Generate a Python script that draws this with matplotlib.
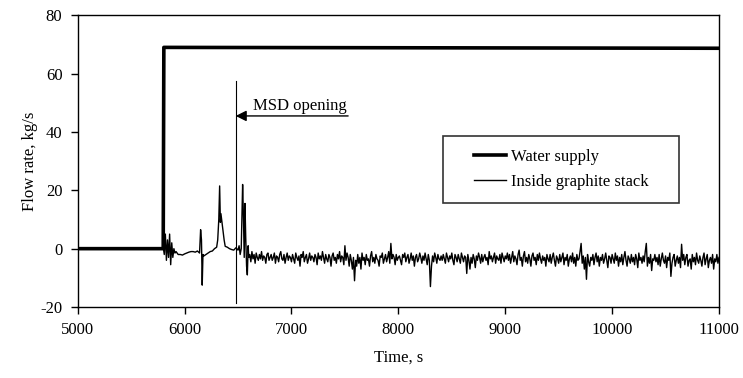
import numpy as np
import matplotlib
matplotlib.use("Agg")
import matplotlib.pyplot as plt
from matplotlib.patches import Rectangle

plt.rcParams['font.family'] = ['Liberation Serif', 'DejaVu Serif']
plt.rcParams['font.size'] = 12
plt.rcParams['axes.unicode_minus'] = False

# Water supply (step)
supply_t = [5000, 5800, 5806, 11000]
supply_q = [0.0, 0.0, 69.0, 68.7]

# Inside graphite stack, start-up transient read point by point
start_t = [5000, 5790, 5800, 5810, 5820, 5830, 5840, 5850, 5860, 5870, 5880, 5890,
           5900, 5910, 5920, 5940, 5960, 5980, 6000, 6020, 6040, 6060, 6080, 6100,
           6120, 6140, 6150, 6158, 6165, 6172, 6180, 6200, 6220, 6240, 6260, 6280,
           6300, 6310, 6320, 6328, 6335, 6340, 6350, 6360, 6370, 6380, 6400, 6420,
           6440, 6460, 6480, 6500, 6510, 6520, 6530, 6543, 6550, 6558, 6565, 6572,
           6580, 6587, 6595, 6600]
start_q = [0.0, 0.0, 0.5, -2.0, 5.0, -4.0, 3.0, -3.0, 5.0, -5.5, 2.0, -3.0,
           0.0, -1.5, -1.0, -2.0, -2.0, -2.2, -1.8, -1.5, -1.2, -1.0, -1.0, -1.2,
           -0.8, -1.5, 6.5, 3.0, -12.5, -2.0, -2.5, -2.0, -1.5, -1.0, -0.8, 0.0,
           0.5, 3.0, 10.0, 21.5, 9.0, 12.0, 9.0, 6.0, 3.0, 0.8, 0.5, 0.0,
           -0.3, -0.5, 0.3, -0.5, 1.0, -2.0, 0.0, 22.0, 12.0, -3.0, 15.5, 4.0,
           -6.0, -9.0, 1.0, -3.0]

# Inside graphite stack, 6610 s .. 11000 s every 10 s
noise_t0 = 6610
noise_dt = 10
noise_q = [
    -2, -4.5, -1, -3.5, -2, -5, -1.5, -3, -4, -2, -3.5, -1, -4, -2.5, -3, -5, -2, -1.5, -4, -3,
    -2, -4, -3, -1.5, -5, -2.5, -3, -4.5, -2, -1, -3.5, -4, -2, -5, -3, -1.5, -4, -2.5, -3, -4.5,
    -2, -3.5, -5, -1.5, -3, -4, -2.5, -6, -2, -3, -1, -4.5, -3, -2, -5, -3.5, -1.5, -4, -2.5, -3,
    -4.5, -2, -3, -5.5, -1.5, -3.5, -2.5, -4, -1, -3, -5, -2, -3.5, -4.5, -2, -3, -6, -2.5, -1.5, -4,
    -3, -5, -2, -3.5, -1, -4.5, -2.5, -3, -5.5, 1, -4, -1.5, -3, -6, -2, -4, -7, -3, -11, -4,
    -6, -2, -5, -3, -7, -1.5, -4, -3, -5.5, -2, -4, -3.5, -6, -2.5, -1, -4.5, -3, -5, -2, -3.5,
    -4, -6, -2.5, -3, -1.5, -5, -3.5, -2, -4.5, -3, -1, -5, 1.8, -3.5, -2, -3, -5.5, -2, -4, -3,
    -2.5, -4, -5.5, -2, -3, -1.5, -4.5, -3, -2, -5, -3.5, -1.5, -4, -2.5, -6, -3, -2, -4.5, -3.5, -1.5,
    -3, -5, -2.5, -4, -1.5, -3.5, -5.5, -2, -4, -13, -6, -2.5, -4.5, -1.5, -3, -5, -2, -3.5, -4, -2.5,
    -4, -2, -3.5, -5, -1.5, -3, -4.5, -2.5, -3.5, -1.5, -4, -5.5, -2, -3, -4.5, -2, -3.5, -5, -1.5, -3,
    -4.5, -2.5, -3, -8.5, -2, -4, -7, -3, -5, -2, -3.5, -6.5, -2.5, -4, -1.5, -3, -5, -2, -4.5, -3,
    -2, -4, -3, -5.5, -1, -3.5, -2.5, -4.5, -3, -1.5, -5, -2.5, -3.5, -4, -2, -5, -1.5, -3, -4.5, -2.5,
    -3.5, -1.5, -4, -2, -5, -3, -1, -4.5, -2.5, -3.5, -5.5, -2, -0.5, -4, -3, -6, -2.5, -1, -4.5, -3,
    -5, -2, -3.5, -6, -2.5, -1.5, -4, -3, -5.5, -2, -4, -1.5, -3.5, -5, -2.5, -4, -3, -6, -2, -3.5,
    -4.5, -2, -5, -3, -1.5, -4, -6, -2.5, -3.5, -5, -2, -4.5, -3, -1.5, -5.5, -3, -4, -2, -6, -3.5,
    -2.5, -4.5, -1.5, -5, -3, -6, -2, -4, -3.5, -1, 1.8, -5, -2.5, -7, -3, -10.5, -2, -4.5, -6, -3,
    -4, -2, -5.5, -3, -1.5, -4.5, -2.5, -6, -3, -4, -2, -5, -3.5, -1.5, -4, -6.5, -2.5, -3, -5, -2,
    -3.5, -5, -1.5, -4, -2.5, -6, -3, -4.5, -2, -5.5, -3, -1, -4, -6, -2.5, -3.5, -5, -2, -4.5, -3,
    -5.5, -2, -3.5, -6.5, -1.5, -4, -3, -5, -2.5, -4.5, -1, 1.8, -6, -3, -5, -2, -7.5, -3.5, -4, -2,
    -4.5, -3, -5.5, -2, -6, -3.5, -1.5, -4, -5, -2.5, -6.5, -3, -4, -1.5, -9.5, -5, -3, -2, -6, -4,
    -2.5, -5, -3, -6.5, 1.5, -4, -2, -5.5, -3, -2, -6, -4, -3.5, -7, -2, -4.5, -3, -5.5, -1.5, -4,
    -5, -2.5, -4, -6, -3, -1.5, -5.5, -3.5, -2, -6.5, -4, -3, -5, -2, -7, -3.5, -4.5, -2, -5, -3,
]

# MSD opening marker
msd_time = 6478
msd_line = [-18.5, 57.5]
arrow_from = 7530
arrow_level = 45.5

noise_t = noise_t0 + noise_dt * np.arange(len(noise_q))
stack_t = np.concatenate([start_t, noise_t])
stack_q = np.concatenate([start_q, noise_q])

W, H = 743, 378
fig = plt.figure(figsize=(W / 100, H / 100), dpi=100)
ax = fig.add_axes([77.7 / W, 1 - 307 / H, (719 - 77.7) / W, (307 - 15.3) / H])

ax.plot(stack_t, stack_q, color='black', lw=1.0, label='Inside graphite stack', zorder=2)
ax.plot(supply_t, supply_q, color='black', lw=2.6, label='Water supply', zorder=3)

ax.plot([msd_time, msd_time], msd_line, color='black', lw=0.8)
ax.annotate('', xy=(msd_time, arrow_level), xytext=(arrow_from, arrow_level),
            arrowprops=dict(arrowstyle='-|>', color='black', lw=1.0, mutation_scale=16,
                            shrinkA=0, shrinkB=0))
ax.text(6640, arrow_level + 0.6, 'MSD opening', ha='left', va='bottom', fontsize=12)

ax.set_xlim(5000, 11000)
ax.set_ylim(-20, 80)
ax.set_xticks(range(5000, 11001, 1000))
ax.set_yticks(range(-20, 81, 20))
ax.tick_params(direction='out', length=5, width=1, colors='black', pad=6)
for s in ax.spines.values():
    s.set_linewidth(1.0)
    s.set_color('black')

ax.set_xlabel('Time, s', labelpad=8)
ax.set_ylabel('Flow rate, kg/s', labelpad=2)

# legend box
box = Rectangle((443 / W, 1 - 203 / H), (679 - 443) / W, (203 - 136) / H,
                transform=fig.transFigure, facecolor='white', edgecolor='#333333',
                lw=1.2, zorder=5)
fig.patches.append(box)
h, l = ax.get_legend_handles_labels()
leg = fig.legend(h[::-1], l[::-1], loc='center', bbox_to_anchor=(561 / W, 1 - 169.5 / H),
                 frameon=False, fontsize=12, handlelength=1.9, handletextpad=0.3,
                 labelspacing=0.55)
leg.set_zorder(6)

fig.savefig('out.png', dpi=100)
